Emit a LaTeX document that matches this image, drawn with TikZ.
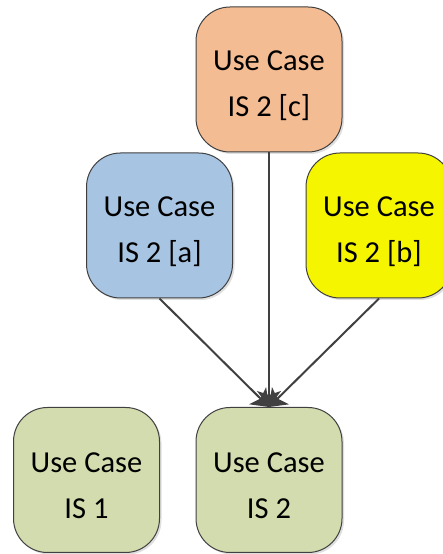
\documentclass[tikz,border=0pt]{standalone}
\usepackage{fontspec}
\setmainfont{Carlito}
\usetikzlibrary{arrows.meta,shadows}
\definecolor{edgegray}{HTML}{404040}
\definecolor{peach}{HTML}{F4BC93}
\definecolor{skyblue}{HTML}{A7C4E2}
\definecolor{lemon}{HTML}{F5F500}
\definecolor{sage}{HTML}{D2DCAE}
% extra room above the first line, so the two lines sit a little low in the box
\newcommand\ucgap{\rule{0pt}{32pt}}
\tikzset{
  usecase/.style={draw=edgegray, line width=1pt, rounded corners=34pt,
    minimum width=146pt, minimum height=145pt, inner sep=0pt,
    align=center, font=\fontsize{30.5}{46}\selectfont,
    drop shadow={opacity=0.25, shadow xshift=2pt, shadow yshift=-2pt}},
  link/.style={draw=edgegray, line width=2pt,
    -{Stealth[length=16pt, width=24pt, inset=4pt]}}
}
\begin{document}
\begin{tikzpicture}[x=1pt,y=1pt]
  \useasboundingbox (0,0) rectangle (443,554);
  \clip (0,0) rectangle (443,554);
  \node[usecase, fill=peach] (c) at (269,474.5) {\ucgap Use Case\\IS 2 [c]};
  \node[usecase, fill=skyblue] (a) at (159.5,328.5) {\ucgap Use Case\\IS 2 [a]};
  \node[usecase, fill=lemon] (b) at (379,328.5) {\ucgap Use Case\\IS 2 [b]};
  \node[usecase, fill=sage] (is1) at (86.5,74) {\ucgap Use Case\\IS 1};
  \node[usecase, fill=sage] (is2) at (269,74) {\ucgap Use Case\\IS 2};
  \draw[link] (a.south) -- (is2.north);
  \draw[link] (b.south) -- (is2.north);
  \draw[link] (c.south) -- (is2.north);
\end{tikzpicture}
\end{document}
